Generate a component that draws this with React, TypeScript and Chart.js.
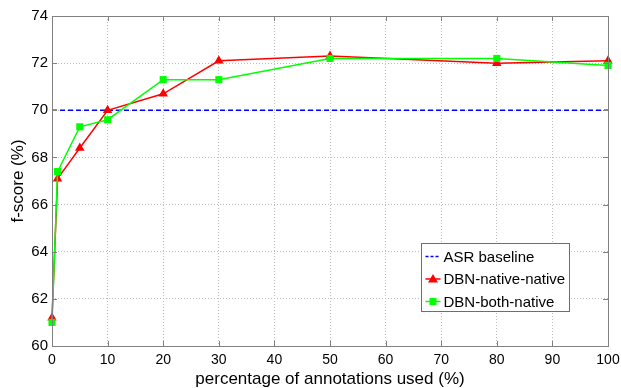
import { useEffect, useRef } from "react";
import { Chart, registerables } from "chart.js";

Chart.register(...registerables);

const annotationPct = [0, 1, 5, 10, 20, 30, 50, 80, 100];
const nativeNative = [61.2, 67.1, 68.4, 70.0, 70.7, 72.1, 72.3, 72.0, 72.1];
const bothNative = [61.0, 67.4, 69.3, 69.6, 71.3, 71.3, 72.2, 72.2, 71.9];
const baselineX = [0, 100];
const baselineY = [70, 70];
const seriesNames = ["ASR baseline", "DBN-native-native", "DBN-both-native"];

const FONT = "'Liberation Sans', Arial, Helvetica, sans-serif";

const boxPlugin = {
  id: "matlabBox",
  afterDraw(chart: any) {
    const { ctx, chartArea } = chart;
    const { left, right, top, bottom } = chartArea;
    ctx.save();
    ctx.strokeStyle = "#808080";
    ctx.lineWidth = 1;
    const xs = chart.scales.x;
    const ys = chart.scales.y;
    const tl = 5;
    ctx.beginPath();
    xs.ticks.forEach((t: any) => {
      const px = Math.round(xs.getPixelForValue(t.value)) + 0.5;
      ctx.moveTo(px, bottom);
      ctx.lineTo(px, bottom - tl);
      ctx.moveTo(px, top);
      ctx.lineTo(px, top + tl);
    });
    ys.ticks.forEach((t: any) => {
      const py = Math.round(ys.getPixelForValue(t.value)) + 0.5;
      ctx.moveTo(left, py);
      ctx.lineTo(left + tl, py);
      ctx.moveTo(right, py);
      ctx.lineTo(right - tl, py);
    });
    ctx.stroke();
    ctx.strokeRect(Math.round(left) + 0.5, Math.round(top) + 0.5, Math.round(right - left), Math.round(bottom - top));

    // legend
    const bw = 148;
    const bh = 68;
    const bx = Math.round(right - 39 - bw) + 0.5;
    const by = Math.round(bottom - 35 - bh) + 0.5;
    ctx.fillStyle = "#ffffff";
    ctx.fillRect(bx, by, bw, bh);
    ctx.strokeStyle = "#6e6e6e";
    ctx.strokeRect(bx, by, bw, bh);
    ctx.font = `15px ${FONT}`;
    ctx.textBaseline = "middle";
    ctx.textAlign = "left";
    chart.data.datasets.forEach((ds: any, i: number) => {
      const cy = by + 13 + i * 22.5;
      const x0 = bx + 4;
      const x1 = bx + 19;
      ctx.save();
      ctx.strokeStyle = ds.borderColor;
      ctx.lineWidth = 1.5;
      if (ds.borderDash && ds.borderDash.length) ctx.setLineDash([3, 2]);
      ctx.beginPath();
      ctx.moveTo(x0, cy);
      ctx.lineTo(x1, cy);
      ctx.stroke();
      ctx.restore();
      if (ds.pointRadius > 0) {
        ctx.fillStyle = ds.pointBackgroundColor;
        const mx = (x0 + x1) / 2;
        if (ds.pointStyle === "triangle") {
          ctx.beginPath();
          ctx.moveTo(mx, cy - 5);
          ctx.lineTo(mx + 5, cy + 3.5);
          ctx.lineTo(mx - 5, cy + 3.5);
          ctx.closePath();
          ctx.fill();
        } else {
          ctx.fillRect(mx - 3.5, cy - 3.5, 7, 7);
        }
      }
      ctx.fillStyle = "#000000";
      ctx.fillText(ds.label, x1 + 3, cy + 1);
    });
    ctx.restore();
  },
};

export default function App() {
  const ref = useRef<HTMLCanvasElement | null>(null);
  useEffect(() => {
    if (!ref.current) return;
    const chart = new Chart(ref.current, {
      type: "line",
      data: {
        datasets: [
          {
            label: seriesNames[0],
            data: baselineX.map((x, i) => ({ x, y: baselineY[i] })),
            borderColor: "#0000ff",
            borderWidth: 1.5,
            borderDash: [5, 3],
            pointRadius: 0,
            order: 2,
          },
          {
            label: seriesNames[1],
            data: annotationPct.map((x, i) => ({ x, y: nativeNative[i] })),
            borderColor: "#ff0000",
            backgroundColor: "#ff0000",
            pointBackgroundColor: "#ff0000",
            pointBorderColor: "#ff0000",
            borderWidth: 1.5,
            pointStyle: "triangle",
            pointRadius: 5.5,
            pointBorderWidth: 0,
            clip: false,
            order: 1,
          },
          {
            label: seriesNames[2],
            data: annotationPct.map((x, i) => ({ x, y: bothNative[i] })),
            borderColor: "#00ff00",
            backgroundColor: "#00ff00",
            pointBackgroundColor: "#00ff00",
            pointBorderColor: "#00ff00",
            borderWidth: 1.5,
            pointStyle: "rect",
            pointRadius: 5,
            pointBorderWidth: 0,
            clip: false,
            order: 0,
          },
        ],
      },
      options: {
        animation: false,
        responsive: false,
        layout: { padding: { top: 16, right: 13, left: 0, bottom: 0 } },
        plugins: { legend: { display: false }, tooltip: { enabled: false } },
        scales: {
          x: {
            type: "linear",
            min: 0,
            max: 100,
            afterFit: (s: any) => {
              s.height = 42;
              s.paddingLeft = 0;
              s.paddingRight = 0;
            },
            ticks: { stepSize: 10, color: "#000", padding: 6, font: { size: 14, family: FONT } },
            grid: { color: "#bcbcbc", drawTicks: false, lineWidth: 1 },
            border: { display: false, dash: [1, 2] },
            title: {
              display: true,
              text: "percentage of annotations used (%)",
              color: "#000",
              font: { size: 17, family: FONT },
              padding: { top: 4, bottom: -2 },
            },
          },
          y: {
            min: 60,
            max: 74,
            afterFit: (s: any) => {
              s.width = 52;
              s.paddingTop = 0;
              s.paddingBottom = 0;
            },
            ticks: { stepSize: 2, color: "#000", padding: 4, font: { size: 15, family: FONT } },
            grid: { color: "#bcbcbc", drawTicks: false, lineWidth: 1 },
            border: { display: false, dash: [1, 2] },
            title: {
              display: true,
              text: "f-score (%)",
              color: "#000",
              font: { size: 17, family: FONT },
              padding: { top: 8, bottom: 0 },
            },
          },
        },
      },
      plugins: [boxPlugin],
    });
    return () => chart.destroy();
  }, []);
  return (
    <div style={{ position: "fixed", left: 0, top: 0, width: 621, height: 388, background: "#fff" }}>
      <canvas ref={ref} width={621} height={388} style={{ width: 621, height: 388 }} />
    </div>
  );
}
